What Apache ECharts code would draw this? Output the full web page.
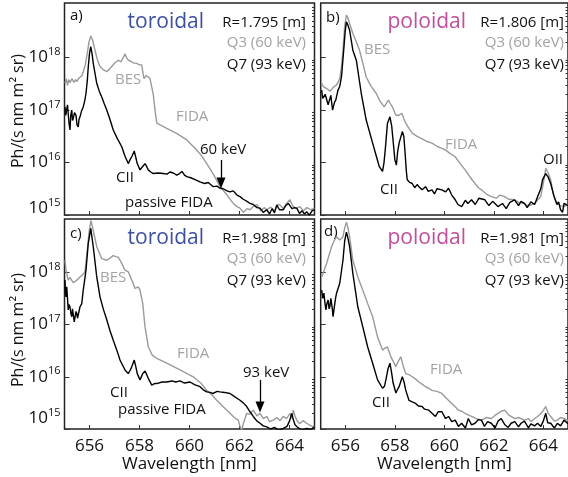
<!DOCTYPE html>
<html>
<head>
<meta charset="utf-8">
<script src="https://cdn.jsdelivr.net/npm/echarts@6/dist/echarts.min.js"></script>
<style>
html, body { margin: 0; padding: 0; background: #fff; }
#chart { width: 568px; height: 477px; }
</style>
</head>
<body>
<div id="chart"></div>
<script>
// values are log10 of the intensity Ph/(s nm m^2 sr), wavelength in nm
let x_ticks = [656, 658, 660, 662, 664];
let y_ticks = [15, 16, 17, 18];

// a) toroidal R=1.795
let a_q3 = [[655.02,17.51],[655.07,17.6],[655.12,17.47],[655.17,17.58],[655.22,17.52],[655.3,17.6],[655.37,17.53],[655.44,17.58],[655.49,17.54],[655.56,17.6],[655.62,17.63],[655.7,17.66],[655.75,17.73],[655.83,17.86],[655.91,18.08],[655.98,18.3],[656.05,18.41],[656.12,18.34],[656.22,18.14],[656.32,17.95],[656.42,17.83],[656.55,17.77],[656.69,17.73],[656.8,17.78],[656.89,17.83],[657.02,17.9],[657.15,17.95],[657.25,17.92],[657.35,18.0],[657.42,18.07],[657.48,18.0],[657.55,17.95],[657.65,17.93],[657.75,17.9],[657.89,17.89],[658.0,17.86],[658.09,17.86],[658.14,17.7],[658.18,17.6],[658.27,17.66],[658.35,17.64],[658.42,17.6],[658.49,17.57],[658.55,17.3],[658.62,17.0],[658.69,16.75],[658.9,16.7],[659.09,16.65],[659.5,16.55],[659.89,16.43],[660.2,16.28],[660.45,16.15],[660.69,15.98],[660.95,15.78],[661.22,15.54],[661.5,15.38],[661.75,15.22],[661.9,15.16],[662.02,15.13],[662.15,15.05],[662.3,15.12],[662.42,15.1],[662.55,15.16],[662.7,15.2],[662.85,15.08],[663.0,15.14],[663.09,15.1],[663.25,15.15],[663.4,15.08],[663.52,15.2],[663.62,15.19],[663.75,15.12],[663.88,15.22],[664.02,15.29],[664.12,15.18],[664.25,15.12],[664.42,15.16],[664.55,15.08],[664.7,15.14],[664.85,15.1],[665.0,15.13]];
let a_q7 = [[655.02,17.06],[655.05,16.9],[655.09,16.9],[655.12,17.1],[655.15,17.13],[655.18,16.75],[655.22,16.62],[655.25,16.9],[655.29,17.0],[655.32,16.8],[655.35,16.84],[655.4,16.95],[655.46,16.9],[655.5,16.72],[655.55,16.68],[655.58,16.82],[655.62,16.87],[655.68,16.98],[655.75,17.06],[655.81,17.18],[655.86,17.32],[655.91,17.55],[655.95,17.82],[656.0,18.08],[656.05,18.21],[656.1,18.08],[656.15,17.89],[656.22,17.7],[656.29,17.51],[656.39,17.36],[656.49,17.25],[656.59,17.12],[656.69,17.0],[656.82,16.82],[656.95,16.62],[657.12,16.45],[657.29,16.3],[657.42,16.12],[657.55,15.98],[657.63,16.06],[657.69,16.11],[657.79,16.22],[657.85,16.1],[657.91,15.98],[658.02,15.86],[658.12,15.92],[658.22,15.98],[658.28,15.93],[658.35,15.86],[658.45,15.82],[658.55,15.79],[658.75,15.8],[658.95,15.79],[659.1,15.78],[659.22,15.82],[659.35,15.8],[659.49,15.76],[659.6,15.79],[659.7,15.83],[659.8,15.76],[659.89,15.73],[660.05,15.71],[660.2,15.68],[660.42,15.63],[660.6,15.6],[660.75,15.62],[660.95,15.54],[661.1,15.55],[661.22,15.51],[661.35,15.5],[661.5,15.46],[661.62,15.44],[661.75,15.46],[661.9,15.38],[662.02,15.35],[662.15,15.3],[662.3,15.26],[662.42,15.22],[662.55,15.2],[662.7,15.14],[662.82,15.13],[662.95,15.05],[663.09,15.1],[663.2,15.02],[663.3,15.12],[663.4,15.04],[663.49,15.19],[663.6,15.1],[663.75,15.1],[663.85,15.18],[663.95,15.22],[664.02,15.25],[664.1,15.12],[664.2,15.14],[664.29,15.13],[664.4,15.03],[664.5,15.08],[664.6,15.02],[664.69,15.06],[664.8,15.0],[664.9,15.08],[665.0,15.1]];

// b) poloidal R=1.806
let b_q3 = [[655.04,17.51],[655.1,17.45],[655.16,17.48],[655.24,17.41],[655.32,17.43],[655.38,17.36],[655.44,17.38],[655.52,17.44],[655.58,17.42],[655.64,17.48],[655.72,17.55],[655.77,17.6],[655.84,17.82],[655.9,18.14],[655.97,18.6],[656.04,18.81],[656.1,18.76],[656.17,18.65],[656.3,18.46],[656.44,18.3],[656.57,18.14],[656.7,17.9],[656.84,17.63],[657.04,17.45],[657.24,17.32],[657.4,17.17],[657.57,17.06],[657.66,17.13],[657.74,17.19],[657.82,17.12],[657.9,17.06],[658.04,16.9],[658.17,16.9],[658.28,16.94],[658.36,16.84],[658.44,16.75],[658.57,16.65],[658.7,16.56],[658.9,16.5],[659.1,16.45],[659.3,16.4],[659.5,16.37],[659.7,16.31],[659.85,16.28],[660.04,16.24],[660.24,16.17],[660.44,16.11],[660.64,15.98],[660.84,15.86],[661.04,15.72],[661.24,15.6],[661.38,15.52],[661.5,15.48],[661.7,15.4],[661.9,15.35],[662.1,15.32],[662.25,15.38],[662.44,15.35],[662.6,15.3],[662.84,15.29],[663.0,15.24],[663.2,15.22],[663.35,15.18],[663.5,15.19],[663.65,15.22],[663.8,15.3],[663.9,15.35],[664.0,15.6],[664.1,15.89],[664.2,15.8],[664.3,15.67],[664.4,15.4],[664.5,15.28],[664.57,15.22],[664.7,15.18],[664.84,15.16],[665.0,15.2]];
let b_q7 = [[655.04,17.38],[655.08,17.22],[655.13,17.19],[655.18,17.3],[655.24,17.32],[655.3,17.1],[655.37,17.13],[655.41,17.28],[655.44,17.25],[655.48,17.0],[655.5,17.0],[655.56,17.15],[655.61,17.19],[655.7,17.38],[655.77,17.45],[655.84,17.63],[655.93,18.14],[655.99,18.5],[656.04,18.68],[656.1,18.62],[656.17,18.52],[656.3,18.14],[656.44,17.95],[656.64,17.32],[656.84,16.81],[657.1,16.37],[657.25,16.12],[657.37,15.92],[657.5,15.83],[657.56,16.0],[657.61,16.24],[657.7,16.75],[657.8,16.87],[657.87,16.7],[657.93,16.4],[658.0,16.05],[658.06,15.95],[658.11,16.2],[658.17,16.37],[658.3,16.59],[658.36,16.5],[658.41,16.2],[658.46,15.85],[658.5,15.67],[658.6,15.62],[658.7,15.6],[658.8,15.52],[658.9,15.58],[658.97,15.54],[659.1,15.48],[659.24,15.54],[659.35,15.45],[659.5,15.48],[659.6,15.4],[659.7,15.5],[659.9,15.48],[660.05,15.44],[660.17,15.51],[660.3,15.38],[660.44,15.29],[660.55,15.2],[660.7,15.16],[660.85,15.28],[660.95,15.22],[661.1,15.29],[661.25,15.2],[661.4,15.32],[661.64,15.29],[661.8,15.18],[661.95,15.26],[662.17,15.16],[662.35,15.22],[662.5,15.12],[662.65,15.24],[662.84,15.29],[663.0,15.18],[663.1,15.26],[663.24,15.22],[663.35,15.14],[663.5,15.25],[663.65,15.2],[663.77,15.35],[663.9,15.5],[663.97,15.67],[664.1,15.79],[664.2,15.72],[664.3,15.6],[664.44,15.35],[664.55,15.2],[664.62,15.25],[664.7,15.1],[664.78,15.05],[664.84,15.22],[665.0,15.18]];

// c) toroidal R=1.988
let c_q3 = [[655.02,18.23],[655.06,18.05],[655.09,17.98],[655.12,17.9],[655.15,17.85],[655.22,17.9],[655.29,17.88],[655.35,17.8],[655.42,17.82],[655.52,17.86],[655.62,17.91],[655.72,17.95],[655.82,18.01],[655.91,18.42],[655.99,18.8],[656.06,18.99],[656.15,18.8],[656.29,18.49],[656.49,18.26],[656.69,18.23],[656.85,18.28],[656.95,18.32],[657.05,18.3],[657.15,18.29],[657.29,18.17],[657.42,18.04],[657.55,18.01],[657.69,17.85],[657.82,17.69],[657.95,17.72],[658.02,17.66],[658.13,17.4],[658.22,16.96],[658.35,16.58],[658.5,16.42],[658.69,16.35],[659.09,16.26],[659.62,16.13],[660.15,16.0],[660.45,15.88],[660.69,15.74],[660.9,15.65],[661.09,15.55],[661.3,15.45],[661.49,15.36],[661.62,15.3],[661.75,15.24],[661.85,15.2],[661.95,15.17],[662.02,15.05],[662.09,14.98],[662.15,15.1],[662.29,15.3],[662.4,15.28],[662.55,15.36],[662.7,15.25],[662.82,15.3],[662.95,15.2],[663.1,15.24],[663.2,15.14],[663.35,15.17],[663.5,15.22],[663.62,15.16],[663.75,15.24],[663.88,15.2],[664.02,15.3],[664.1,15.2],[664.15,15.36],[664.22,15.25],[664.29,15.17],[664.4,15.1],[664.55,15.16],[664.69,15.11],[664.85,15.06],[665.0,15.04]];
let c_q7 = [[655.02,17.85],[655.04,17.6],[655.06,17.53],[655.09,17.72],[655.12,17.5],[655.15,17.28],[655.18,17.38],[655.22,17.34],[655.26,17.2],[655.29,17.15],[655.32,17.3],[655.35,17.28],[655.39,17.05],[655.42,17.08],[655.46,17.25],[655.49,17.21],[655.52,17.12],[655.55,17.15],[655.62,17.34],[655.69,17.4],[655.75,17.66],[655.86,18.04],[655.95,18.55],[656.05,18.84],[656.15,18.49],[656.29,17.91],[656.42,17.53],[656.55,17.3],[656.69,17.09],[656.82,16.88],[656.95,16.7],[657.1,16.5],[657.22,16.32],[657.42,16.13],[657.55,16.06],[657.62,16.12],[657.69,16.19],[657.79,16.32],[657.85,16.2],[657.91,16.06],[658.02,15.94],[658.13,16.06],[658.22,16.11],[658.28,16.05],[658.35,15.97],[658.49,15.84],[658.6,15.87],[658.69,15.87],[658.9,15.9],[659.09,15.9],[659.3,15.92],[659.45,15.9],[659.62,15.92],[659.8,15.88],[660.02,15.9],[660.2,15.85],[660.42,15.81],[660.55,15.75],[660.69,15.71],[660.82,15.7],[660.95,15.68],[661.1,15.72],[661.22,15.71],[661.4,15.7],[661.62,15.68],[661.8,15.62],[662.02,15.55],[662.15,15.5],[662.29,15.43],[662.42,15.33],[662.55,15.24],[662.7,15.15],[662.82,15.11],[662.95,15.06],[663.09,15.04],[663.25,15.0],[663.4,15.03],[663.55,14.98],[663.75,15.01],[663.9,15.05],[664.0,15.15],[664.09,15.3],[664.15,15.18],[664.22,15.08],[664.35,15.02],[664.5,14.98],[664.69,15.01],[664.85,14.99],[665.0,15.04]];

// d) poloidal R=1.981
let d_q3 = [[655.04,17.91],[655.1,17.98],[655.17,18.08],[655.24,18.17],[655.34,18.33],[655.44,18.49],[655.54,18.6],[655.64,18.68],[655.72,18.65],[655.77,18.62],[655.84,18.64],[655.9,18.68],[655.97,18.85],[656.04,18.96],[656.1,18.85],[656.17,18.68],[656.3,18.23],[656.5,17.91],[656.7,17.66],[656.9,17.4],[657.1,17.15],[657.3,16.76],[657.5,16.51],[657.6,16.55],[657.7,16.57],[657.84,16.38],[657.95,16.28],[658.04,16.19],[658.14,16.3],[658.24,16.38],[658.34,16.2],[658.44,16.06],[658.57,16.04],[658.7,16.0],[658.85,15.95],[658.97,15.9],[659.1,15.86],[659.24,15.81],[659.37,15.78],[659.5,15.74],[659.7,15.72],[659.9,15.68],[660.1,15.58],[660.3,15.49],[660.45,15.42],[660.57,15.36],[660.7,15.34],[660.84,15.3],[661.0,15.26],[661.1,15.24],[661.3,15.2],[661.5,15.17],[661.7,15.22],[661.9,15.2],[662.05,15.26],[662.17,15.3],[662.3,15.34],[662.44,15.36],[662.6,15.27],[662.84,15.2],[663.0,15.22],[663.24,15.17],[663.4,15.2],[663.5,15.14],[663.65,15.2],[663.77,15.24],[663.95,15.32],[664.1,15.43],[664.2,15.3],[664.3,15.24],[664.45,15.15],[664.57,15.17],[664.7,15.22],[664.84,15.2],[665.0,15.16]];
let d_q7 = [[655.04,17.66],[655.08,17.5],[655.13,17.6],[655.17,17.42],[655.21,17.28],[655.25,17.4],[655.3,17.47],[655.34,17.3],[655.37,17.34],[655.41,17.5],[655.44,17.53],[655.47,17.3],[655.5,17.15],[655.54,17.3],[655.57,17.4],[655.6,17.5],[655.64,17.6],[655.77,17.79],[655.9,18.23],[655.97,18.6],[656.04,18.77],[656.1,18.66],[656.17,18.49],[656.3,17.98],[656.5,17.34],[656.7,16.96],[656.9,16.57],[657.1,16.26],[657.3,15.94],[657.5,15.78],[657.58,15.82],[657.64,15.95],[657.72,16.15],[657.8,16.26],[657.86,16.1],[657.93,15.88],[658.04,15.69],[658.1,15.75],[658.17,15.81],[658.3,16.0],[658.37,15.9],[658.44,15.74],[658.57,15.55],[658.7,15.52],[658.84,15.49],[658.95,15.44],[659.1,15.43],[659.2,15.38],[659.37,15.36],[659.5,15.3],[659.64,15.24],[659.75,15.33],[659.9,15.33],[660.05,15.2],[660.17,15.24],[660.3,15.14],[660.44,15.17],[660.57,15.05],[660.7,15.11],[660.85,15.02],[660.97,15.2],[661.1,15.08],[661.24,15.11],[661.38,15.18],[661.5,15.17],[661.62,15.05],[661.75,15.14],[661.9,15.11],[662.05,15.02],[662.17,15.15],[662.3,15.2],[662.45,15.08],[662.58,15.03],[662.7,15.11],[662.85,15.14],[663.0,15.04],[663.1,15.11],[663.24,15.15],[663.4,15.02],[663.5,15.1],[663.65,15.06],[663.77,15.11],[663.9,15.05],[664.0,15.15],[664.1,15.3],[664.18,15.12],[664.3,15.11],[664.45,15.02],[664.57,15.11],[664.7,15.06],[664.84,15.17],[665.0,15.1]];

// arrows: [wavelength, from, to]
let a_arrow = [661.26, 16.05, 15.61];
let c_arrow = [662.82, 15.94, 15.42];

//--------------------Layout--------------------
let font_name = "Open Sans";
let grey_line = "#9a9a9a";
let grey_text = "#a3a3a3";
let blue_text = "#3d4fa3";
let pink_text = "#c04e9e";

let grids = [
    {left: 64.5, top: 3, width: 250, height: 212},
    {left: 320.7, top: 3, width: 250, height: 212},
    {left: 64.5, top: 219, width: 250, height: 210},
    {left: 320.7, top: 219, width: 250, height: 210}
];
let y_max = [19.04, 19.04, 19.02, 19.02];
let y_label_pos = [[15.13, 16, 17, 18], null, [15.2, 16, 17, 18], null];

let minor_ticks = [];
y_ticks.forEach(function (n) {
    for (let k = 2; k <= 9; k++) minor_ticks.push(n + Math.log10(k));
});

let x_axes = [];
let y_axes = [];
grids.forEach(function (g, i) {
    g.show = true;
    g.borderColor = "#222";
    g.borderWidth = 1.5;
    let bottom_row = i >= 2;
    x_axes.push({
        type: 'value', gridIndex: i, min: 655, max: 665,
        axisLine: {show: false},
        splitLine: {show: false},
        axisTick: {inside: true, length: 4, customValues: x_ticks, lineStyle: {color: '#333'}},
        axisLabel: {show: bottom_row, customValues: x_ticks, margin: 9,
            fontFamily: font_name, fontSize: 17, color: '#111'},
        name: bottom_row ? 'Wavelength [nm]' : '',
        nameLocation: 'middle', nameGap: 27,
        nameTextStyle: {fontFamily: font_name, fontSize: 17, color: '#111'}
    });
    y_axes.push({
        type: 'value', gridIndex: i, min: 15, max: y_max[i],
        axisLine: {show: false},
        splitLine: {show: false},
        axisTick: {inside: true, length: 5, customValues: y_ticks, lineStyle: {color: '#333'}},
        axisLabel: {
            show: y_label_pos[i] !== null,
            customValues: y_label_pos[i] || y_ticks,
            margin: 4,
            formatter: function (v) { return '{b|10}{s|' + Math.floor(v) + '}'; },
            rich: {
                b: {fontFamily: font_name, fontSize: 17, color: '#111', lineHeight: 22},
                s: {fontFamily: font_name, fontSize: 11, color: '#111', verticalAlign: 'top', lineHeight: 14}
            }
        }
    });
    y_axes.push({
        type: 'value', gridIndex: i, min: 15, max: y_max[i],
        axisLine: {show: false},
        splitLine: {show: false},
        axisLabel: {show: false},
        axisTick: {inside: true, length: 2.5, customValues: minor_ticks, lineStyle: {color: '#333'}}
    });
});

//---------------------Series---------------------
function spec(data, i, color, arrow) {
    let s = {
        type: 'line', xAxisIndex: i, yAxisIndex: 2 * i,
        data: data, showSymbol: false, silent: true, animation: false,
        lineStyle: {color: color, width: 1.4}
    };
    if (arrow) {
        s.markLine = {
            silent: true, symbol: ['none', 'triangle'], symbolSize: [9, 11],
            label: {show: false},
            lineStyle: {color: '#000', width: 1.3, type: 'solid'},
            data: [[{coord: [arrow[0], arrow[1]]}, {coord: [arrow[0], arrow[2]]}]]
        };
    }
    return s;
}
let series = [
    spec(a_q3, 0, grey_line), spec(a_q7, 0, '#000', a_arrow),
    spec(b_q3, 1, grey_line), spec(b_q7, 1, '#000'),
    spec(c_q3, 2, grey_line), spec(c_q7, 2, '#000', c_arrow),
    spec(d_q3, 3, grey_line), spec(d_q7, 3, '#000')
];

//--------------------Annotations--------------------
function txt(x, y, s, size, color, align, rot) {
    return {
        type: 'text', x: x, y: y, rotation: rot || 0, silent: true,
        style: {text: s, fontFamily: font_name, fontSize: size, fill: color,
            align: align || 'left', verticalAlign: 'middle',
            textAlign: align || 'left', textVerticalAlign: 'middle'}
    };
}
let graphics = [
    txt(18, 111, 'Ph/(s nm m² sr)', 16, '#111', 'center', Math.PI / 2),
    txt(18, 330, 'Ph/(s nm m² sr)', 16, '#111', 'center', Math.PI / 2),
    // a)
    txt(70, 16, 'a)', 15, '#111'),
    txt(204, 22, 'toroidal', 21, blue_text, 'right'),
    txt(306, 23, 'R=1.795 [m]', 15, '#111', 'right'),
    txt(306, 43, 'Q3 (60 keV)', 15, grey_text, 'right'),
    txt(306, 65, 'Q7 (93 keV)', 15, '#111', 'right'),
    txt(115, 80, 'BES', 15, grey_text),
    txt(176, 117, 'FIDA', 15, grey_text),
    txt(200, 150, '60 keV', 15, '#111'),
    txt(116, 178, 'CII', 15, '#111'),
    txt(125, 203, 'passive FIDA', 15, '#111'),
    // b)
    txt(326, 18, 'b)', 15, '#111'),
    txt(466, 22, 'poloidal', 21, pink_text, 'right'),
    txt(564, 23, 'R=1.806 [m]', 15, '#111', 'right'),
    txt(564, 43, 'Q3 (60 keV)', 15, grey_text, 'right'),
    txt(564, 65, 'Q7 (93 keV)', 15, '#111', 'right'),
    txt(364, 50, 'BES', 15, grey_text),
    txt(445, 145, 'FIDA', 15, grey_text),
    txt(380, 190, 'CII', 15, '#111'),
    txt(543, 160, 'OII', 15, '#111'),
    // c)
    txt(70, 234, 'c)', 15, '#111'),
    txt(204, 238, 'toroidal', 21, blue_text, 'right'),
    txt(306, 239, 'R=1.988 [m]', 15, '#111', 'right'),
    txt(306, 259, 'Q3 (60 keV)', 15, grey_text, 'right'),
    txt(306, 281, 'Q7 (93 keV)', 15, '#111', 'right'),
    txt(100, 278, 'BES', 15, grey_text),
    txt(177, 354, 'FIDA', 15, grey_text),
    txt(243, 373, '93 keV', 15, '#111'),
    txt(110, 393, 'CII', 15, '#111'),
    txt(118, 410, 'passive FIDA', 15, '#111'),
    // d)
    txt(324, 232, 'd)', 15, '#111'),
    txt(466, 238, 'poloidal', 21, pink_text, 'right'),
    txt(564, 239, 'R=1.981 [m]', 15, '#111', 'right'),
    txt(564, 259, 'Q3 (60 keV)', 15, grey_text, 'right'),
    txt(564, 281, 'Q7 (93 keV)', 15, '#111', 'right'),
    txt(430, 370, 'FIDA', 15, grey_text),
    txt(372, 403, 'CII', 15, '#111')
];

//------------------Generate Graph------------------
let chart_dom = document.getElementById("chart");
let chart = echarts.init(chart_dom, null, {renderer: 'canvas'});
let option = {
    backgroundColor: '#fff',
    animation: false,
    textStyle: {fontFamily: font_name},
    grid: grids,
    xAxis: x_axes,
    yAxis: y_axes,
    series: series,
    graphic: graphics
};
chart.setOption(option, true);
</script>
</body>
</html>
